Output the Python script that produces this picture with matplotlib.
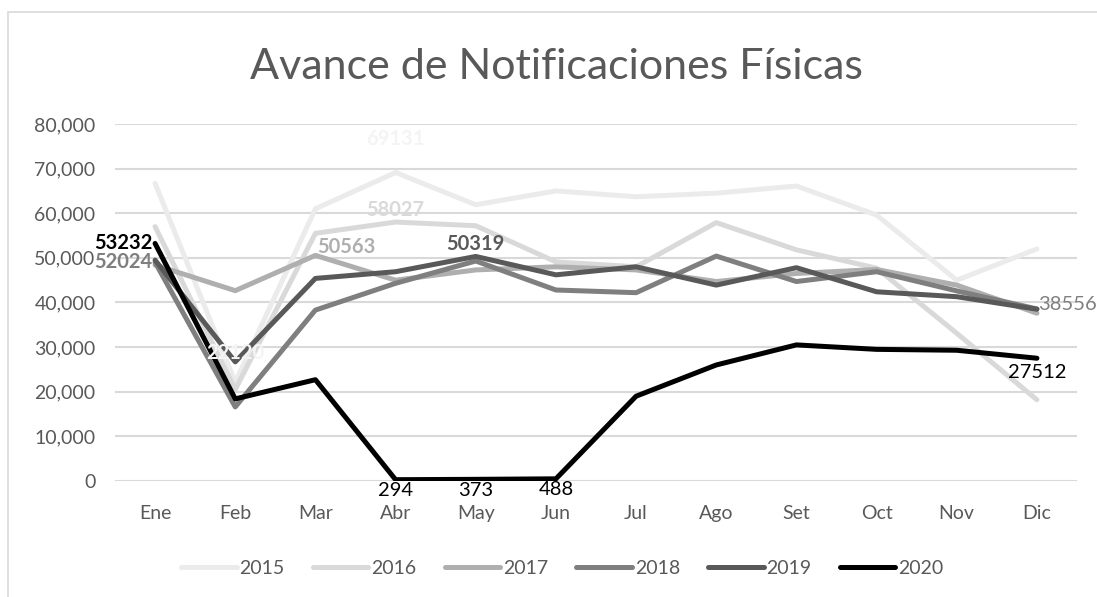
import matplotlib
matplotlib.use('Agg')
import matplotlib.pyplot as plt
from matplotlib.patches import Rectangle

matplotlib.rcParams.update({'font.family': ['Lato', 'DejaVu Sans']})

months = ["Ene", "Feb", "Mar", "Abr", "May", "Jun", "Jul", "Ago", "Set", "Oct", "Nov", "Dic"]

y2015 = [66700, 22120, 61000, 69131, 61900, 65000, 63700, 64500, 66100, 59600, 45000, 52000]
y2016 = [57000, 20500, 55500, 58027, 57200, 49100, 48000, 57900, 51800, 47700, 33100, 18200]
y2017 = [48400, 42650, 50563, 45000, 47300, 48000, 47300, 44700, 46500, 47400, 43900, 37600]
y2018 = [49000, 16600, 38300, 44300, 49300, 42800, 42200, 50400, 44700, 46900, 42600, 38556]
y2019 = [49500, 26700, 45400, 46900, 50319, 46200, 48000, 43900, 47800, 42400, 41300, 38500]
y2020 = [53232, 18400, 22700, 294, 373, 488, 19000, 26000, 30500, 29500, 29300, 27512]

years = ["2015", "2016", "2017", "2018", "2019", "2020"]
series = [y2015, y2016, y2017, y2018, y2019, y2020]
colors = ["#ebebeb", "#d9d9d9", "#afafaf", "#7f7f7f", "#595959", "#000000"]

# data labels: (series index, month index, text, dx pt, dy pt, ha, bold)
labels = [
    (0, 1, "22120", 0, 21, 'center', True),
    (0, 3, "69131", 0, 24, 'center', True),
    (1, 3, "58027", 0, 9, 'center', True),
    (2, 2, "50563", 1, 6, 'left', True),
    (3, 0, "52024", -2, 0, 'right', True),
    (3, 11, "38556", 1, 3, 'left', False),
    (4, 4, "50319", 0, 9, 'center', True),
    (5, 0, "53232", -2, 0, 'right', True),
    (5, 3, "294", 0, -8, 'center', False),
    (5, 4, "373", 0, -8, 'center', False),
    (5, 5, "488", 0, -8, 'center', False),
    (5, 11, "27512", 0, -10, 'center', False),
]

fig = plt.figure(figsize=(10.97, 5.97), dpi=100)
fig.patches.append(Rectangle((8 / 1097, -0.1), 1.2, (597 - 12) / 597 + 0.1,
                             transform=fig.transFigure, fill=False,
                             edgecolor='#d9d9d9', linewidth=1.2))
ax = fig.add_axes([115 / 1097, (597 - 481) / 597, 962 / 1097, 357 / 597])

x = list(range(len(months)))
for yr, vals, c in zip(years, series, colors):
    ax.plot(x, vals, color=c, linewidth=3.6, label=yr,
            solid_capstyle='round', solid_joinstyle='round')

for si, mi, txt, dx, dy, ha, bold in labels:
    c = colors[si]
    if si == 0:
        c = '#f4f4f4'
    ax.annotate(txt, (x[mi], series[si][mi]), xytext=(dx, dy),
                textcoords='offset points', ha=ha, va='center', fontsize=14.5,
                color=c, fontweight='bold' if bold else 'normal')

ax.set_xlim(-0.5, 11.5)
ax.set_ylim(0, 80000)
ax.set_yticks(range(0, 80001, 10000))
ax.set_yticklabels(['{:,}'.format(v) for v in range(0, 80001, 10000)])
ax.set_xticks(x)
ax.set_xticklabels(months)
ax.tick_params(length=0, labelsize=14, labelcolor='#595959')
ax.tick_params(axis='x', pad=17)
ax.tick_params(axis='y', pad=14)
ax.grid(axis='y', color='#d9d9d9', linewidth=1.5)
ax.set_axisbelow(True)
for s in ax.spines.values():
    s.set_visible(False)

fig.text(0.507, 0.888, "Avance de Notificaciones Físicas", ha='center', va='center',
         fontsize=31, color='#595959')

leg = ax.legend(loc='center', bbox_to_anchor=(0.465, -0.245), ncol=6, frameon=False,
                fontsize=14, handlelength=2.85, columnspacing=1.45, handletextpad=0.15)
for t in leg.get_texts():
    t.set_color('#595959')

plt.savefig('out.png', dpi=100)
